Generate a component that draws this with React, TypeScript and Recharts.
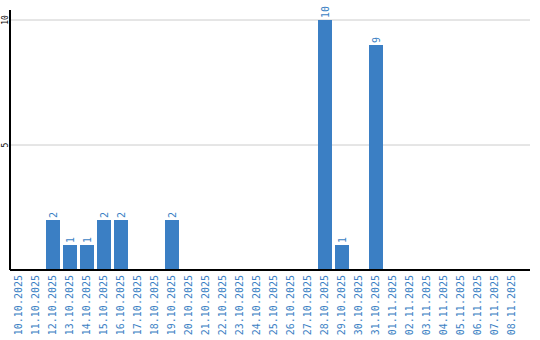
import React from 'react';
import { BarChart, Bar, XAxis, YAxis, CartesianGrid, LabelList } from 'recharts';

const dates = [
  '10.10.2025', '11.10.2025', '12.10.2025', '13.10.2025', '14.10.2025', '15.10.2025',
  '16.10.2025', '17.10.2025', '18.10.2025', '19.10.2025', '20.10.2025', '21.10.2025',
  '22.10.2025', '23.10.2025', '24.10.2025', '25.10.2025', '26.10.2025', '27.10.2025',
  '28.10.2025', '29.10.2025', '30.10.2025', '31.10.2025', '01.11.2025', '02.11.2025',
  '03.11.2025', '04.11.2025', '05.11.2025', '06.11.2025', '07.11.2025', '08.11.2025',
];
const counts = [0, 0, 2, 1, 1, 2, 2, 0, 0, 2, 0, 0, 0, 0, 0, 0, 0, 0, 10, 1, 0, 9, 0, 0, 0, 0, 0, 0, 0, 0];
const yTicks = [5, 10];

const data = dates.map((d, i) => ({ date: d, count: counts[i] }));

const BLUE = '#3b7fc4';
const FONT = '"DejaVu Sans Mono", monospace';

const DateTick = (props: any) => {
  const { x, y, payload } = props;
  const ty = y - 3;
  return (
    <text
      x={x}
      y={ty}
      transform={`rotate(-90 ${x} ${ty})`}
      textAnchor="end"
      dominantBaseline="central"
      fill={BLUE}
      fontSize={10}
      fontFamily={FONT}
    >
      {payload.value}
    </text>
  );
};

const CountTick = (props: any) => {
  const { y, payload } = props;
  const tx = 5;
  return (
    <text
      x={tx}
      y={y}
      transform={`rotate(-90 ${tx} ${y})`}
      textAnchor="middle"
      dominantBaseline="central"
      fill="#000"
      fontSize={8}
      fontFamily={FONT}
    >
      {payload.value}
    </text>
  );
};

const ValueLabel = (props: any) => {
  const { x, y, width, value } = props;
  if (!value) return null;
  const cx = x + width / 2;
  const ty = y - 2;
  return (
    <text
      x={cx}
      y={ty}
      transform={`rotate(-90 ${cx} ${ty})`}
      textAnchor="start"
      dominantBaseline="central"
      fill={BLUE}
      fontSize={10}
      fontFamily={FONT}
    >
      {value}
    </text>
  );
};

export default function App() {
  return (
    <div style={{ position: 'absolute', left: 0, top: 0, background: '#fff' }}>
      <BarChart
        width={540}
        height={340}
        data={data}
        margin={{ top: 10, right: 10, bottom: 0, left: 0 }}
        barSize={14}
      >
        <CartesianGrid horizontal vertical={false} stroke="#cccccc" horizontalValues={yTicks} />
        <XAxis
          dataKey="date"
          interval={0}
          height={70}
          tick={<DateTick />}
          tickLine={false}
          axisLine={{ stroke: '#000', strokeWidth: 2 }}
          padding={{ left: 0, right: 10 }}
        />
        <YAxis
          width={10}
          domain={[0, 10.4]}
          ticks={yTicks}
          tick={<CountTick />}
          tickLine={false}
          axisLine={{ stroke: '#000', strokeWidth: 2 }}
        />
        <Bar dataKey="count" fill={BLUE} isAnimationActive={false}>
          <LabelList dataKey="count" content={<ValueLabel />} />
        </Bar>
      </BarChart>
    </div>
  );
}
